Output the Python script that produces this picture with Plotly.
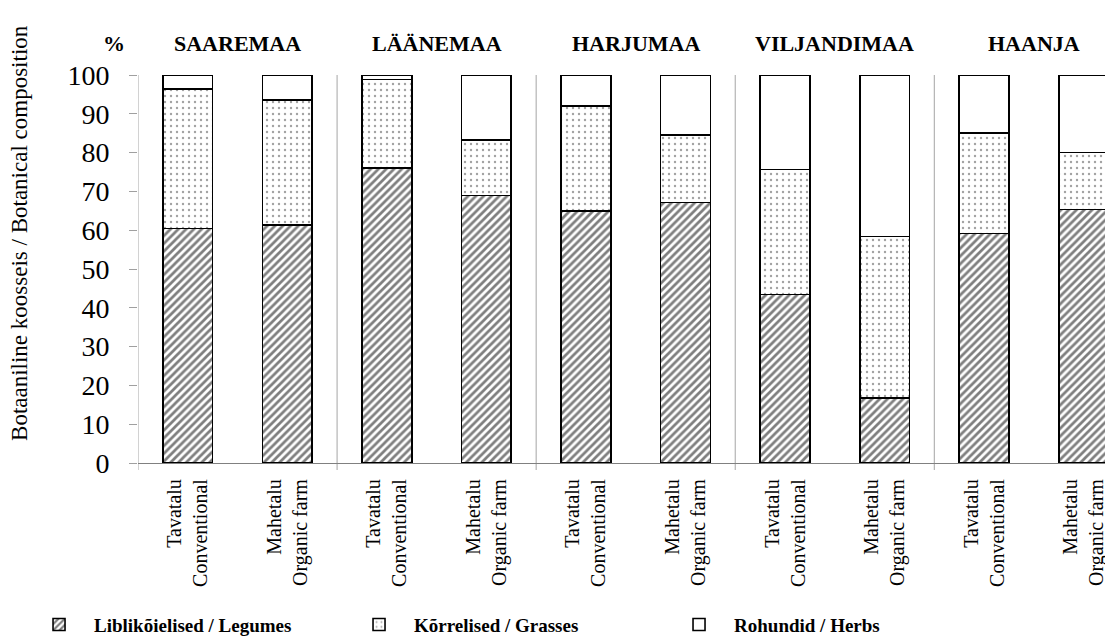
import plotly.graph_objects as go

regions = ["SAAREMAA", "LÄÄNEMAA", "HARJUMAA", "VILJANDIMAA", "HAANJA"]
farm_labels = ["Tavatalu<br>Conventional", "Mahetalu<br>Organic farm"]
y_ticks = [0, 10, 20, 30, 40, 50, 60, 70, 80, 90, 100]

# values per bar: (conv, org) for each region, in order
legumes = [60.4, 61.4, 76.1, 68.9, 65.0, 67.1, 43.4, 16.7, 59.1, 65.3]
grasses = [36.0, 32.2, 22.7, 14.4, 27.0, 17.5, 32.2, 41.7, 26.0, 14.7]
herbs   = [3.6, 6.4, 1.2, 16.7, 8.0, 15.4, 24.4, 41.6, 14.9, 20.0]

series_names = ["Liblikõielised / Legumes", "Kõrrelised / Grasses", "Rohundid / Herbs"]

FONT = "Liberation Serif"
xs = list(range(len(legumes)))
ticktext = [farm_labels[i % 2] for i in xs]

fig = go.Figure()
fig.add_trace(go.Bar(
    x=xs, y=legumes, name=series_names[0], width=0.5,
    marker=dict(color="white", line=dict(color="black", width=1.6),
                pattern=dict(shape="/", size=5.5, solidity=0.5, fgcolor="black", bgcolor="white")),
))
fig.add_trace(go.Bar(
    x=xs, y=grasses, name=series_names[1], width=0.5,
    marker=dict(color="white", line=dict(color="black", width=1.6),
                pattern=dict(shape=".", size=6, solidity=0.12, fgcolor="#444", bgcolor="white")),
))
fig.add_trace(go.Bar(
    x=xs, y=herbs, name=series_names[2], width=0.5,
    marker=dict(color="white", line=dict(color="black", width=1.6)),
))

# group separators (and y-axis line) extending slightly below the axis
sep_x = [-0.5] + [2 * i + 1.5 for i in range(len(regions) - 1)]
for sx in sep_x:
    fig.add_shape(type="line", xref="x", yref="paper", x0=sx, x1=sx, y0=-0.018, y1=1,
                  line=dict(color="#b4b4b4", width=1.2), layer="below")

# region titles
for i, r in enumerate(regions):
    fig.add_annotation(x=2 * i + 0.5, xref="x", y=1.08, yref="paper", text="<b>%s</b>" % r,
                       showarrow=False, font=dict(family=FONT, size=22, color="black"),
                       xanchor="center", yanchor="middle")
fig.add_annotation(x=-0.024, xref="paper", y=1.08, yref="paper", text="<b>%</b>",
                   showarrow=False, font=dict(family=FONT, size=22, color="black"),
                   xanchor="center", yanchor="middle")
fig.add_annotation(x=-0.12, xref="paper", y=0.593, yref="paper",
                   text="Botaaniline koosseis / Botanical composition", textangle=-90,
                   showarrow=False, font=dict(family=FONT, size=23, color="black"),
                   xanchor="center", yanchor="middle")

fig.update_layout(
    width=1113, height=637,
    barmode="stack",
    plot_bgcolor="white", paper_bgcolor="white",
    margin=dict(l=130, r=0, t=67, b=182, autoexpand=False),
    font=dict(family=FONT, color="black"),
    xaxis=dict(range=[-0.5, 9.375], tickvals=xs, ticktext=ticktext, tickangle=-90,
               tickfont=dict(family=FONT, size=20, color="black"), ticks="",
               showline=True, linecolor="#808080", linewidth=1.3, showgrid=False,
               zeroline=False, ticklabelstandoff=7),
    yaxis=dict(range=[0, 100], tickvals=y_ticks, ticks="outside", ticklen=8,
               tickcolor="#a0a0a0", tickwidth=1.2, showline=False, showgrid=False,
               zeroline=False, tickfont=dict(family=FONT, size=28, color="black"),
               ticklabelstandoff=14, tickprefix="<b>", ticksuffix="</b>"),
    legend=dict(orientation="h", x=0.0144, xref="container", xanchor="left",
                y=0.032, yref="container", yanchor="middle",
                font=dict(family=FONT, size=19, color="black"), entrywidth=245,
                itemwidth=60, traceorder="normal"),
    showlegend=True,
)
for tr in fig.data:
    tr.name = "<b>%s</b>" % tr.name

fig.write_html("out.html")
